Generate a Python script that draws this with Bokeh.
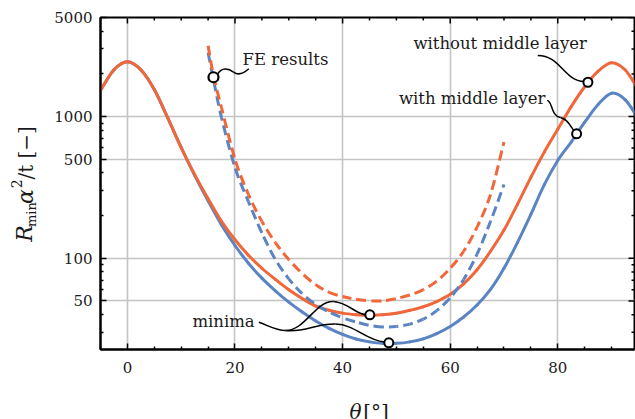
import math
from bokeh.plotting import figure
from bokeh.layouts import row, column
from bokeh.models import Range1d, FixedTicker, Label, NumeralTickFormatter
from bokeh.embed import file_html
from bokeh.resources import INLINE

# ---------------- data ----------------
theta_solid = [-5, -2.5, 0, 2.5, 5, 7.5, 10, 12.5, 15, 17.5, 20, 22.5, 25, 27.5,
               30, 32.5, 35, 37.5, 40, 42.5, 45, 47.5, 50, 52.5, 55, 57.5, 60,
               62.5, 65, 67.5, 70, 72.5, 75, 77.5, 80, 82.5, 85, 87.5, 90, 92.5, 95]
without_layer = [1530, 2140, 2440, 2140, 1550, 977, 603, 389, 263, 182, 135, 105,
                 85, 71, 60, 52, 46, 43, 41, 40, 39.5, 40, 40.9, 42.9, 45.5, 49.5, 55.6,
                 66, 83, 112, 158, 240, 372, 562, 813, 1175, 1622, 2090, 2400,
                 2140, 1550]
with_layer = [1530, 2140, 2440, 2140, 1550, 977, 603, 385, 254, 172, 123, 92.3,
              72.4, 58.9, 49, 41.7, 36.1, 32, 29, 26.9, 25.7, 25.1, 25.1, 25.7,
              27, 29.4, 33, 38.5, 46.8, 60.3, 85, 129, 204, 331, 490, 661, 912,
              1216, 1462, 1318, 966]

theta_fe = [15, 16, 17.5, 20, 22.5, 25, 27.5, 30, 32.5, 35, 37.5, 40, 42.5, 45,
            47.5, 50, 52.5, 55, 57.5, 60, 62.5, 65, 67.5, 70]
fe_without_layer = [3160, 1950, 1150, 500, 282, 182, 129, 98, 78, 65, 57.5, 53.7,
                    51.3, 50.1, 50.1, 52, 55, 60, 69, 85, 112, 166, 282, 660]
fe_with_layer = [2820, 1820, 980, 437, 251, 151, 98, 71.6, 56.2, 47.3, 41.7, 38,
                 35.5, 33.6, 32.7, 33, 34.3, 37.2, 42.7, 52.5, 70.8, 107, 182, 331]

x_major = [0, 20, 40, 60, 80]
x_minor = [-5, 5, 10, 15, 25, 30, 35, 45, 50, 55, 65, 70, 75, 85, 90]
y_major = [50, 100, 500, 1000, 5000]
y_minor = [30, 40, 60, 70, 80, 90, 200, 300, 400, 600, 700, 800, 900, 2000, 3000, 4000]

# annotated points
fe_point = (16.0, 1893)
without_point = (85.6, 1746)
with_point = (83.5, 755)
min_without = (45.06, 39.9)
min_with = (48.59, 25.3)

ORANGE = "#F0673A"
BLUE = "#5A84C2"
FONT = "DejaVu Serif"
TXT = "#1a1a1a"

# layout geometry (pixels)
W_TOTAL, H_TOTAL = 635, 419
W_YLAB = 45          # strip that carries the rotated y-axis title
H_XLAB = 24          # strip that carries the x-axis title
H_MAIN = H_TOTAL - H_XLAB
X0, X1, Y0, Y1 = -5, 94.26, 22.7, 5000
PX_PER_X = 534 / (X1 - X0)
PX_PER_DEC = 332 / (math.log10(Y1) - math.log10(Y0))

p = figure(width=W_TOTAL - W_YLAB, height=H_MAIN, output_backend="svg",
           toolbar_location=None,
           x_range=Range1d(X0, X1), y_range=Range1d(Y0, Y1), y_axis_type="log",
           min_border_left=100 - W_YLAB, min_border_right=1, min_border_top=17,
           min_border_bottom=H_MAIN - 349)
p.background_fill_color = "white"
p.border_fill_color = "white"
p.outline_line_color = "black"
p.outline_line_width = 2

p.xaxis.ticker = FixedTicker(ticks=x_major, minor_ticks=x_minor)
p.yaxis.ticker = FixedTicker(ticks=y_major, minor_ticks=y_minor)
p.yaxis.formatter = NumeralTickFormatter(format="0")
for ax in (p.xaxis[0], p.yaxis[0]):
    ax.axis_line_color = "black"
    ax.axis_line_width = 2
    ax.major_tick_in = 6
    ax.major_tick_out = 0
    ax.minor_tick_in = 3
    ax.minor_tick_out = 0
    ax.major_tick_line_width = 1.5
    ax.minor_tick_line_width = 1.5
    ax.major_label_text_font = FONT
    ax.major_label_text_font_size = "15px"
    ax.major_label_text_color = TXT
p.xaxis.major_label_standoff = 12
p.yaxis.major_label_standoff = 8

p.xgrid.ticker = FixedTicker(ticks=x_major)
p.ygrid.ticker = FixedTicker(ticks=y_major)
p.grid.grid_line_color = "#c4c4c4"
p.grid.grid_line_width = 1.6


# mirrored ticks on the top and right frame edges
def frac_y(px):
    return 10 ** (-px / PX_PER_DEC)

for ticks, ln in ((x_major, 6), (x_minor, 3)):
    p.segment(x0=ticks, x1=ticks, y0=[Y1] * len(ticks), y1=[Y1 * frac_y(ln)] * len(ticks),
              line_color="black", line_width=1.5)
for ticks, ln in ((y_major, 6), (y_minor, 3)):
    p.segment(x0=[X1] * len(ticks), x1=[X1 - ln / PX_PER_X] * len(ticks), y0=ticks, y1=ticks,
              line_color="black", line_width=1.5)


# smooth rendering of the read points (Catmull-Rom -> cubic Bezier, in x / log10(y) space)
def bezier_parts(xs, ys):
    L = [math.log10(v) for v in ys]
    n = len(xs)
    out = []
    for i in range(n - 1):
        x0, l0, x1, l1 = xs[i], L[i], xs[i + 1], L[i + 1]
        xm, lm = (xs[i - 1], L[i - 1]) if i > 0 else (2 * x0 - x1, 2 * l0 - l1)
        xp, lp = (xs[i + 2], L[i + 2]) if i + 2 < n else (2 * x1 - x0, 2 * l1 - l0)
        c0x, c0l = x0 + (x1 - xm) / 6, l0 + (l1 - lm) / 6
        c1x, c1l = x1 - (xp - x0) / 6, l1 - (lp - l0) / 6
        out.append((x0, 10 ** l0, c0x, 10 ** c0l, c1x, 10 ** c1l, x1, 10 ** l1,
                    math.hypot((x1 - x0) * PX_PER_X, (l1 - l0) * PX_PER_DEC)))
    return out


def smooth_line(xs, ys, color):
    parts = bezier_parts(xs, ys)
    p.bezier(x0=[s[0] for s in parts], y0=[s[1] for s in parts],
             cx0=[s[2] for s in parts], cy0=[s[3] for s in parts],
             cx1=[s[4] for s in parts], cy1=[s[5] for s in parts],
             x1=[s[6] for s in parts], y1=[s[7] for s in parts],
             line_color=color, line_width=3, line_cap="round")


def smooth_dashed(xs, ys, color, dash=(10, 5)):
    period = sum(dash)
    cum = 0.0
    for s in bezier_parts(xs, ys):
        p.bezier(x0=[s[0]], y0=[s[1]], cx0=[s[2]], cy0=[s[3]], cx1=[s[4]], cy1=[s[5]],
                 x1=[s[6]], y1=[s[7]], line_color=color, line_width=3,
                 line_dash="%d %d" % dash, line_dash_offset=int(round(cum)) % period)
        cum += s[8] * 1.01


smooth_line(theta_solid, with_layer, BLUE)
smooth_line(theta_solid, without_layer, ORANGE)
smooth_dashed(theta_fe, fe_with_layer, BLUE)
smooth_dashed(theta_fe, fe_without_layer, ORANGE)


# leader lines
def bez(x0, y0, cx0, cy0, cx1, cy1, x1, y1):
    p.bezier(x0=[x0], y0=[y0], x1=[x1], y1=[y1], cx0=[cx0], cy0=[cy0],
             cx1=[cx1], cy1=[cy1], line_color="black", line_width=1.5)

bez(16.8, 2000, 17.49, 2234, 18.79, 2198, 19.72, 2061)
bez(19.72, 2061, 20.65, 1932, 21.58, 2011, 22.57, 2173)
bez(76.28, 2695, 80.5, 2695, 81.06, 1795, 84.9, 1766)
bez(78.03, 1297, 79.0, 1297, 78.64, 1016, 80.5, 984)
bez(80.5, 984, 81.99, 952, 82.36, 850, 83.1, 783)
bez(24.42, 35.34, 26.23, 33.5, 27.53, 30.9, 29.39, 30.9)
bez(29.39, 30.9, 33.1, 30.9, 34.96, 50.3, 38.31, 49.5)
bez(38.31, 49.5, 41.1, 48.7, 42.4, 40.1, 44.44, 39.9)
bez(29.39, 30.9, 33.1, 29.9, 34.96, 34.6, 38.68, 34.3)
bez(38.68, 34.3, 42.4, 34.0, 44.26, 26.3, 47.79, 25.6)

# marker circles
p.scatter([fe_point[0]], [fe_point[1]], size=10, fill_color="white",
          line_color="black", line_width=2.2)
p.scatter([without_point[0], with_point[0], min_without[0], min_with[0]],
          [without_point[1], with_point[1], min_without[1], min_with[1]],
          size=9, fill_color="white", line_color="black", line_width=2)


def make_label(x, y, s, size="16.5px", style="normal", angle=0, baseline="middle",
               align="left"):
    return Label(x=x, y=y, text=s, text_font=FONT, text_font_size=size,
                 text_font_style=style, text_color=TXT, angle=angle,
                 text_baseline=baseline, text_align=align)

p.add_layout(make_label(21.4, 2523, "FE results"))
p.add_layout(make_label(53.16, 3276, "without middle layer"))
p.add_layout(make_label(50.48, 1340, "with middle layer"))
p.add_layout(make_label(12.08, 35.7, "minima"))


def strip(width, height, y_top):
    f = figure(width=width, height=height, output_backend="svg", toolbar_location=None,
               x_range=Range1d(0, width), y_range=Range1d(y_top + height, y_top),
               x_axis_location=None, y_axis_location=None,
               min_border=0, min_border_left=0, min_border_right=0,
               min_border_top=0, min_border_bottom=0)
    f.title.visible = False
    f.outline_line_color = None
    f.grid.visible = False
    f.background_fill_color = "white"
    f.border_fill_color = "white"
    return f

# y-axis title: R_min α² /t [−]  (pieces, rotated, centred; coordinates are strip pixels)
ylab = strip(W_YLAB, H_MAIN, 0)
ang = math.pi / 2
for x, y, s, size, style in [(24, 257, "R", "22px", "italic"),
                             (31, 234.5, "min", "13px", "normal"),
                             (25, 213, "α", "22px", "italic"),
                             (15.5, 198, "2", "14px", "normal"),
                             (25.5, 161, "/t [−]", "20px", "normal")]:
    ylab.add_layout(make_label(x, y, s, size=size, style=style, angle=ang,
                               baseline="middle", align="center"))

# x-axis title: θ [°]
xlab = strip(W_TOTAL, H_XLAB, H_MAIN)
xlab.add_layout(make_label(355, 411, "θ", size="20px", style="italic",
                           baseline="middle", align="center"))
xlab.add_layout(make_label(375.5, 411, "[°]", size="20px",
                           baseline="middle", align="center"))

layout = column(row(ylab, p, spacing=0), xlab, spacing=0)
open("out.html", "w").write(file_html(layout, INLINE))
